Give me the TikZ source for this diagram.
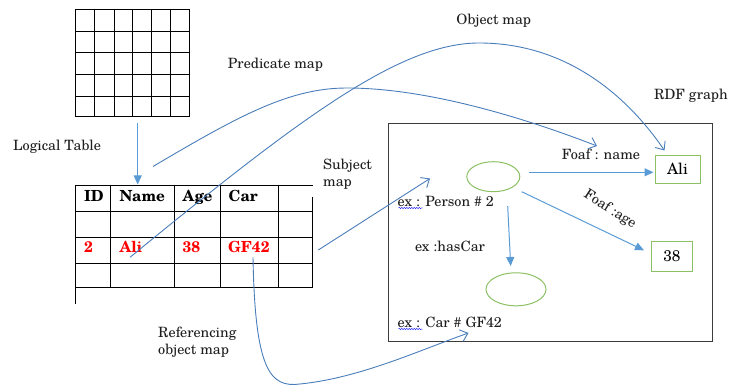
\documentclass[tikz,border=0pt]{standalone}
\usepackage{fontspec}
\setmainfont{TeX Gyre Schola}
\usetikzlibrary{arrows.meta,decorations.pathmorphing,shapes.geometric}

\definecolor{arrowblue}{RGB}{91,155,213}
\definecolor{curveblue}{RGB}{74,126,187}
\definecolor{nodegreen}{RGB}{140,192,100}
\definecolor{framegray}{RGB}{60,60,60}
\definecolor{inkgray}{RGB}{30,30,30}

\tikzset{
  lbl/.style={text=inkgray, inner sep=0pt, font=\fontsize{14.2}{17.5}\selectfont},
  cellhead/.style={inner sep=0pt, anchor=base west, font=\fontsize{15.3}{18}\selectfont\bfseries},
  cellval/.style={cellhead, text=red},
  gridline/.style={line width=0.85pt, black},
  mapcurve/.style={curveblue, line width=0.9pt, -{Straight Barb[length=7pt,width=12pt,line width=0.9pt]}},
  innerarrow/.style={arrowblue, line width=1pt, -{Triangle[length=9pt,width=8pt]}},
  resnode/.style={ellipse, draw=nodegreen, line width=1pt, inner sep=0pt},
  litbox/.style={draw=nodegreen, line width=1pt, inner sep=0pt, font=\fontsize{15.5}{18}\selectfont},
  spellmark/.style={blue!80!white, line width=0.5pt, decorate, decoration={snake, amplitude=0.7pt, segment length=2.5pt}}
}

\begin{document}
\begin{tikzpicture}[x=1pt,y=-1pt]
\useasboundingbox (0,0) rectangle (729,385);

% ---- logical table: empty grid ----
\node (grid) [minimum width=114.3pt, minimum height=107.4pt, inner sep=0pt] at (132.15,63) {};
\foreach \gx in {75,94.3,114,132.3,151.7,170,189.3}
  \draw[gridline] (\gx,9.3) -- (\gx,116.7);
\foreach \gy in {9.3,31,52.7,74.3,96,116.7}
  \draw[gridline] (75,\gy) -- (189.3,\gy);
\node[lbl, anchor=west] (logical) at (13,147) {Logical Table};

\coordinate (gridout) at (137.7,123);
\coordinate (tabin) at (137.7,184.5);
\draw[innerarrow] (gridout) -- (tabin);

% ---- relational table ----
\draw[gridline] (75,185) -- (312.7,185);
\foreach \ry in {211.7,237.7,263.3,287.3}
  \draw[gridline] (75,\ry) -- (312.7,\ry);
\draw[gridline] (75,185) -- (75,304);
\foreach \cx in {110.7,174,220.3,278.3}
  \draw[gridline] (\cx,185) -- (\cx,287.3);
\draw[gridline] (312.7,196.7) -- (312.7,287.3);

\node[cellhead] (hID)   at (84,201.5)  {ID};
\node[cellhead] (hName) at (119.5,201.5) {Name};
\node[cellhead] (hAge)  at (182.5,201.5) {Age};
\node[cellhead] (hCar)  at (228.5,201.5) {Car};
\node[cellval] (vID)   at (84,253)  {2};
\node[cellval] (vName) at (119.5,253) {Ali};
\node[cellval] (vAge)  at (182.5,253) {38};
\node[cellval] (vCar)  at (228,253) {GF42};

% ---- RDF graph ----
\node[lbl, anchor=east] (rdflbl) at (728,96) {RDF graph};
\draw[framegray, line width=1pt] (388,124) rectangle (712,341);

\node[resnode, minimum width=53pt, minimum height=30pt] (person) at (493.3,176.7) {};
\node[resnode, minimum width=60pt, minimum height=33pt] (car) at (516,289.3) {};
\node[litbox, minimum width=45pt, minimum height=28.3pt] (ali) at (677.5,169.2) {Ali};
\node[litbox, minimum width=41.7pt, minimum height=30.7pt] (age) at (671.9,256.4) {38};

\node[lbl, anchor=west] (personlbl) at (397.5,201.7) {ex : Person \# 2};
\node[lbl, anchor=west] (carlbl) at (397.5,322.7) {ex : Car \# GF42};
\draw[spellmark] (398.5,208) -- (422.5,208);
\draw[spellmark] (398.5,329) -- (422.5,329);

\node[lbl] (foafname) at (601,154.3) {Foaf : name};
\node[lbl, rotate=-33] (foafage) at (610,209.3) {Foaf :age};
\node[lbl] (hascar) at (450,246) {ex :hasCar};

\coordinate (pE) at (529.3,172.3);
\coordinate (pSE) at (521.7,191.7);
\coordinate (pS) at (507.7,206);
\coordinate (aliW) at (653.5,172.3);
\coordinate (ageW) at (644,250.3);
\coordinate (carN) at (510.7,266);
\draw[innerarrow] (pE) -- (aliW);
\draw[innerarrow] (pSE) -- (ageW);
\draw[innerarrow] (pS) -- (carN);

% ---- mappings ----
\node[lbl] (predlbl) at (275.5,65) {Predicate map};
\node[lbl] (objlbl) at (493.8,21) {Object map};
\node[lbl, anchor=west, align=left] (subjlbl) at (323,174) {Subject\\map};
\node[lbl, anchor=west, align=left] (reflbl) at (158,342) {Referencing\\object map};

\coordinate (predstart) at (153,166.5);
\coordinate (predend) at (597,146);
\coordinate (objstart) at (130,257.3);
\coordinate (objend) at (664.5,150.5);
\coordinate (subjstart) at (318.3,250);
\coordinate (subjend) at (430,178.5);
\coordinate (refstart) at (253,257.3);
\coordinate (refend) at (468.5,333);

\draw[mapcurve] (predstart) .. controls (240,115) and (290,88) .. (347,88)
                 .. controls (430,88) and (530,120) .. (predend);
\draw[mapcurve] (objstart) .. controls (300,118) and (400,43) .. (479,43)
                 .. controls (570,43) and (630,100) .. (objend);
\draw[mapcurve] (subjstart) -- (subjend);
\draw[mapcurve] (refstart) .. controls (255,370) and (270,388) .. (300,384)
                 .. controls (360,378) and (420,350) .. (refend);
\end{tikzpicture}
\end{document}
